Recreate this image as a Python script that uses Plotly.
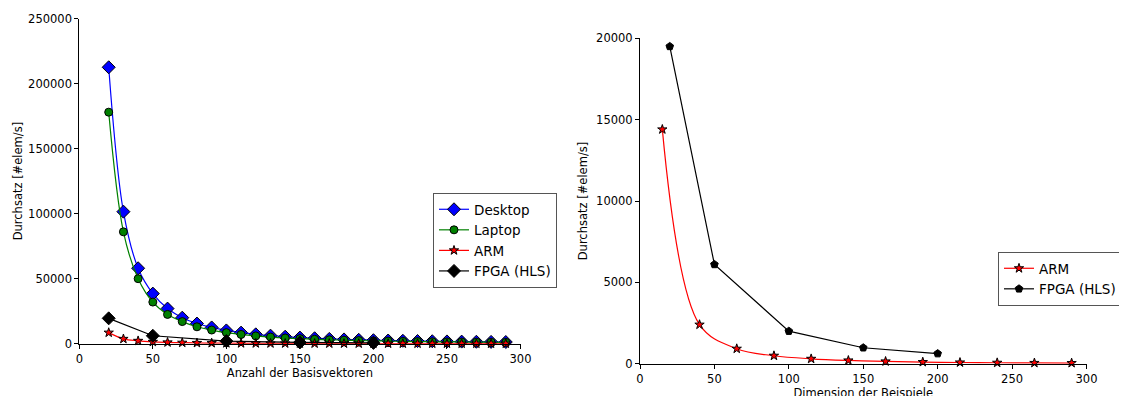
import plotly.graph_objects as go

# ---- data: left panel (Anzahl der Basisvektoren) ----
basis_x = [20, 30, 40, 50, 60, 70, 80, 90, 100, 110, 120, 130, 140, 150,
           160, 170, 180, 190, 200, 210, 220, 230, 240, 250, 260, 270, 280, 290]
desktop = [212500, 101500, 58000, 38500, 27000, 20000, 15500, 12500, 10200, 8500,
           7200, 6200, 5400, 4700, 4200, 3700, 3300, 3000, 2700, 2450,
           2250, 2050, 1900, 1750, 1600, 1500, 1400, 1300]
laptop = [178000, 86000, 50000, 32000, 22500, 17000, 13000, 10500, 8500, 7100,
          6000, 5100, 4400, 3900, 3400, 3000, 2700, 2400, 2200, 2000,
          1800, 1650, 1500, 1400, 1300, 1200, 1100, 1050]
arm_left = [8500, 3700, 2200, 1400, 1000, 750, 580, 460, 370, 310,
            260, 220, 190, 165, 145, 130, 115, 105, 95, 85,
            78, 71, 65, 60, 56, 52, 48, 45]
fpga_x = [20, 50, 100, 150, 200]
fpga = [19500, 6100, 2000, 980, 620]

# ---- data: right panel (Dimension der Beispiele) ----
dim_x = [15, 40, 65, 90, 115, 140, 165, 190, 215, 240, 265, 290]
arm_right = [14400, 2400, 920, 490, 300, 200, 140, 100, 75, 58, 47, 40]

left_yticks = [0, 50000, 100000, 150000, 200000, 250000]
right_yticks = [0, 5000, 10000, 15000, 20000]
xticks = [0, 50, 100, 150, 200, 250, 300]

FONT = "DejaVu Sans"

fig = go.Figure()

def add(x, y, name, color, symbol, size, xa, ya, legend, shape="spline"):
    fig.add_trace(go.Scatter(
        x=x, y=y, name=name, mode="lines+markers",
        line=dict(color=color, width=1.2, shape=shape),
        marker=dict(symbol=symbol, size=size, color=color,
                    line=dict(color="black", width=1)),
        xaxis=xa, yaxis=ya, legend=legend, cliponaxis=False))

add(basis_x, desktop, "Desktop", "#0000ff", "diamond", 10, "x", "y", "legend")
add(basis_x, laptop, "Laptop", "#008000", "circle", 8, "x", "y", "legend")
add(basis_x, arm_left, "ARM", "#ff0000", "star", 7, "x", "y", "legend")
add(fpga_x, fpga, "FPGA (HLS)", "#000000", "diamond", 10, "x", "y", "legend", shape="linear")

add(dim_x, arm_right, "ARM", "#ff0000", "star", 7, "x2", "y2", "legend2")
add(fpga_x, fpga, "FPGA (HLS)", "#000000", "pentagon", 8, "x2", "y2", "legend2", shape="linear")

axis_common = dict(showline=True, linecolor="black", linewidth=1, ticks="outside",
                   ticklen=4, tickcolor="black", showgrid=False, zeroline=False,
                   tickfont=dict(family=FONT, size=11.5, color="black"),
                   automargin=False)

W, H = 1127, 396
OFF = 8  # page body margin offset
def xd(a, b):
    return [(a - OFF) / W, (b - OFF) / W]
def yd(top, bottom):
    return [1 - (bottom - OFF) / H, 1 - (top - OFF) / H]

fig.update_layout(
    width=W, height=H,
    margin=dict(l=0, r=0, t=0, b=0),
    plot_bgcolor="white", paper_bgcolor="white",
    font=dict(family=FONT, color="black"),
    xaxis=dict(axis_common, domain=xd(79.3, 520.5), range=[0, 300], tickvals=xticks,
               title=dict(text="Anzahl der Basisvektoren", standoff=4,
                          font=dict(family=FONT, size=11.5)), anchor="y"),
    yaxis=dict(axis_common, domain=yd(18.5, 343.7), range=[0, 250000], tickvals=left_yticks,
               tickformat="d",
               title=dict(text="Durchsatz [#elem/s]", standoff=3,
                          font=dict(family=FONT, size=11.5)), anchor="x"),
    xaxis2=dict(axis_common, domain=xd(640, 1086.5), range=[0, 300], tickvals=xticks,
                title=dict(text="Dimension der Beispiele", standoff=4,
                           font=dict(family=FONT, size=11.5)), anchor="y2"),
    yaxis2=dict(axis_common, domain=yd(38.3, 363.7), range=[0, 20000], tickvals=right_yticks,
                tickformat="d",
                title=dict(text="Durchsatz [#elem/s]", standoff=6,
                           font=dict(family=FONT, size=11.5)), anchor="x2"),
    legend=dict(x=(433 - OFF) / W, y=1 - (193 - OFF) / H, xanchor="left", yanchor="top",
                bordercolor="#555555", borderwidth=1, bgcolor="white",
                font=dict(family=FONT, size=13.5, color="black"), tracegroupgap=0),
    legend2=dict(x=(998 - OFF) / W, y=1 - (252 - OFF) / H, xanchor="left", yanchor="top",
                 bordercolor="#555555", borderwidth=1, bgcolor="white",
                 font=dict(family=FONT, size=13.5, color="black"), tracegroupgap=0),
    showlegend=True,
)

fig.write_html("out.html")
